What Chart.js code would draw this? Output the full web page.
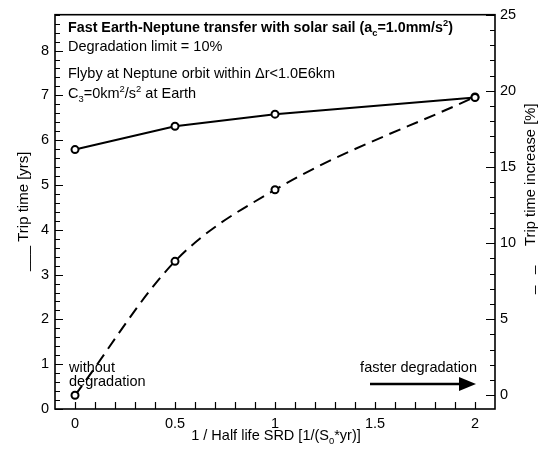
<!DOCTYPE html>
<html>
<head>
<meta charset="utf-8">
<script src="https://cdn.jsdelivr.net/npm/chart.js@4"></script>
<style>
  html, body { margin: 0; padding: 0; background: #fff; }
  #wrap { width: 543px; height: 450px; }
</style>
</head>
<body>
<div id="wrap"><canvas id="chart" width="543" height="450"></canvas></div>
<script>
// --- values ---
const halfLifeInv = [0, 0.5, 1, 2];           // 1 / half life SRD
const tripTimeYrs = [5.79, 6.31, 6.58, 6.95];  // solid line, left axis
const tripIncreasePct = [0, 8.8, 13.5, 19.6];  // dashed line, right axis

const xTickValues = [0, 0.5, 1, 1.5, 2];
const leftTickValues = [0, 1, 2, 3, 4, 5, 6, 7, 8];
const rightTickValues = [0, 5, 10, 15, 20, 25];

const FONT = 'Arial, "Liberation Sans", sans-serif';

// draws text made of normal / sub / sup pieces, returns width
function drawRich(ctx, x, y, parts, size, weight, measureOnly) {
    let cx = x;
    parts.forEach(p => {
        const s = (p.sub || p.sup) ? size * 0.65 : size;
        ctx.font = `${weight} ${s}px ${FONT}`;
        const dy = p.sub ? size * 0.25 : (p.sup ? -size * 0.4 : 0);
        if (!measureOnly) ctx.fillText(p.t, cx, y + dy);
        cx += ctx.measureText(p.t).width;
    });
    return cx - x;
}

// rotated text (reads bottom to top); y0 = where the text starts (bottom)
function drawUp(ctx, text, x, y0, size) {
    ctx.save();
    ctx.font = `${size}px ${FONT}`;
    ctx.textAlign = 'left';
    ctx.translate(x, y0);
    ctx.rotate(-Math.PI / 2);
    ctx.fillText(text, 0, 0);
    ctx.restore();
}

// frame, inward ticks and all the free text
const framePlugin = {
    id: 'frameAndText',
    afterDraw(chart) {
        const ctx = chart.ctx;
        const a = chart.chartArea;
        const { x, y, y2 } = chart.scales;
        ctx.save();
        ctx.strokeStyle = '#000';
        ctx.fillStyle = '#000';

        // ticks pointing into the plot
        ctx.lineWidth = 1.2;
        ctx.beginPath();
        for (let v = 0; v <= 8.8001; v += 0.2) {
            const py = Math.round(y.getPixelForValue(v)) + 0.5;
            const major = Math.abs(v - Math.round(v)) < 1e-6;
            ctx.moveTo(a.left, py);
            ctx.lineTo(a.left + (major ? 8 : 5), py);
        }
        for (let v = 0; v <= 25.0001; v += 1) {
            const py = Math.round(y2.getPixelForValue(v)) + 0.5;
            const major = v % 5 === 0;
            ctx.moveTo(a.right, py);
            ctx.lineTo(a.right - (major ? 9 : 5), py);
        }
        for (let v = 0; v <= 2.0001; v += 0.1) {
            const px = Math.round(x.getPixelForValue(v)) + 0.5;
            ctx.moveTo(px, a.bottom);
            ctx.lineTo(px, a.bottom - 7);
        }
        ctx.stroke();

        // frame
        ctx.lineWidth = 1.6;
        ctx.strokeRect(a.left, a.top, a.right - a.left, a.bottom - a.top);

        // text block top-left
        ctx.textAlign = 'left';
        ctx.textBaseline = 'alphabetic';
        drawRich(ctx, 68, 32, [
            { t: 'Fast Earth-Neptune transfer with solar sail (a' },
            { t: 'c', sub: true },
            { t: '=1.0mm/s' },
            { t: '2', sup: true },
            { t: ')' }
        ], 14.3, 'bold');
        drawRich(ctx, 68, 51, [{ t: 'Degradation limit = 10%' }], 14.5, 'normal');
        drawRich(ctx, 68, 78, [{ t: 'Flyby at Neptune orbit within \u0394r<1.0E6km' }], 14.5, 'normal');
        drawRich(ctx, 68, 98, [
            { t: 'C' }, { t: '3', sub: true }, { t: '=0km' }, { t: '2', sup: true },
            { t: '/s' }, { t: '2', sup: true }, { t: ' at Earth' }
        ], 14.5, 'normal');

        drawRich(ctx, 69, 372, [{ t: 'without' }], 14.5, 'normal');
        drawRich(ctx, 69, 386, [{ t: 'degradation' }], 14.5, 'normal');

        ctx.font = `14.5px ${FONT}`;
        ctx.textAlign = 'right';
        ctx.fillText('faster degradation', 477, 372);

        // arrow
        ctx.lineWidth = 2.5;
        ctx.beginPath();
        ctx.moveTo(370, 384);
        ctx.lineTo(462, 384);
        ctx.stroke();
        ctx.beginPath();
        ctx.moveTo(459, 377);
        ctx.lineTo(476, 384);
        ctx.lineTo(459, 391);
        ctx.closePath();
        ctx.fill();

        // x axis title
        const xTitle = [{ t: '1 / Half life SRD [1/(S' }, { t: '0', sub: true }, { t: '*yr)]' }];
        ctx.textAlign = 'left';
        const w = drawRich(ctx, 0, 0, xTitle, 14.5, 'normal', true);
        drawRich(ctx, 276 - w / 2, 440, xTitle, 14.5, 'normal');

        // y axis titles, with the line-style keys drawn as underscores
        drawUp(ctx, '___ Trip time [yrs]', 28, 271, 15);
        drawUp(ctx, 'Trip time increase [%]', 535, 246, 14.8);
        drawUp(ctx, '_', 533, 274, 14.8);
        drawUp(ctx, '_', 533, 294, 14.8);

        ctx.restore();
    }
};

const tickFont = { family: FONT, size: 14.5 };

new Chart(document.getElementById('chart'), {
    type: 'line',
    data: {
        datasets: [
            {
                label: 'Trip time',
                data: halfLifeInv.map((v, i) => ({ x: v, y: tripTimeYrs[i] })),
                yAxisID: 'y',
                borderColor: '#000',
                borderWidth: 2,
                pointRadius: 3.5,
                pointBorderWidth: 2,
                pointBackgroundColor: '#fff',
                pointBorderColor: '#000',
                tension: 0
            },
            {
                label: 'Trip time increase',
                data: halfLifeInv.map((v, i) => ({ x: v, y: tripIncreasePct[i] })),
                yAxisID: 'y2',
                borderColor: '#000',
                borderWidth: 2,
                borderDash: [12, 7],
                cubicInterpolationMode: 'monotone',
                pointRadius: 3.5,
                pointBorderWidth: 2,
                pointBackgroundColor: '#fff',
                pointBorderColor: '#000'
            }
        ]
    },
    options: {
        responsive: false,
        animation: false,
        devicePixelRatio: 1,
        layout: { padding: { top: 9, left: 0, right: 0, bottom: 0 } },
        plugins: { legend: { display: false }, tooltip: { enabled: false } },
        scales: {
            x: {
                type: 'linear', position: 'bottom', min: -0.1, max: 2.1,
                grid: { display: false, drawTicks: false }, border: { display: false },
                ticks: { font: tickFont, color: '#000', padding: 6, maxRotation: 0, callback: v => String(v) },
                afterBuildTicks: s => { s.ticks = xTickValues.map(v => ({ value: v })); },
                afterFit: s => { s.height = 41; }
            },
            y: {
                type: 'linear', position: 'left', min: 0, max: 8.8,
                grid: { display: false, drawTicks: false }, border: { display: false },
                ticks: { font: tickFont, color: '#000', padding: 6, callback: v => String(v) },
                afterBuildTicks: s => { s.ticks = leftTickValues.map(v => ({ value: v })); },
                afterFit: s => { s.width = 55; }
            },
            y2: {
                type: 'linear', position: 'right', min: -0.9, max: 25,
                grid: { display: false, drawTicks: false }, border: { display: false },
                ticks: { font: tickFont, color: '#000', padding: 5, callback: v => String(v) },
                afterBuildTicks: s => { s.ticks = rightTickValues.map(v => ({ value: v })); },
                afterFit: s => { s.width = 48; }
            }
        }
    },
    plugins: [framePlugin]
});
</script>
</body>
</html>
